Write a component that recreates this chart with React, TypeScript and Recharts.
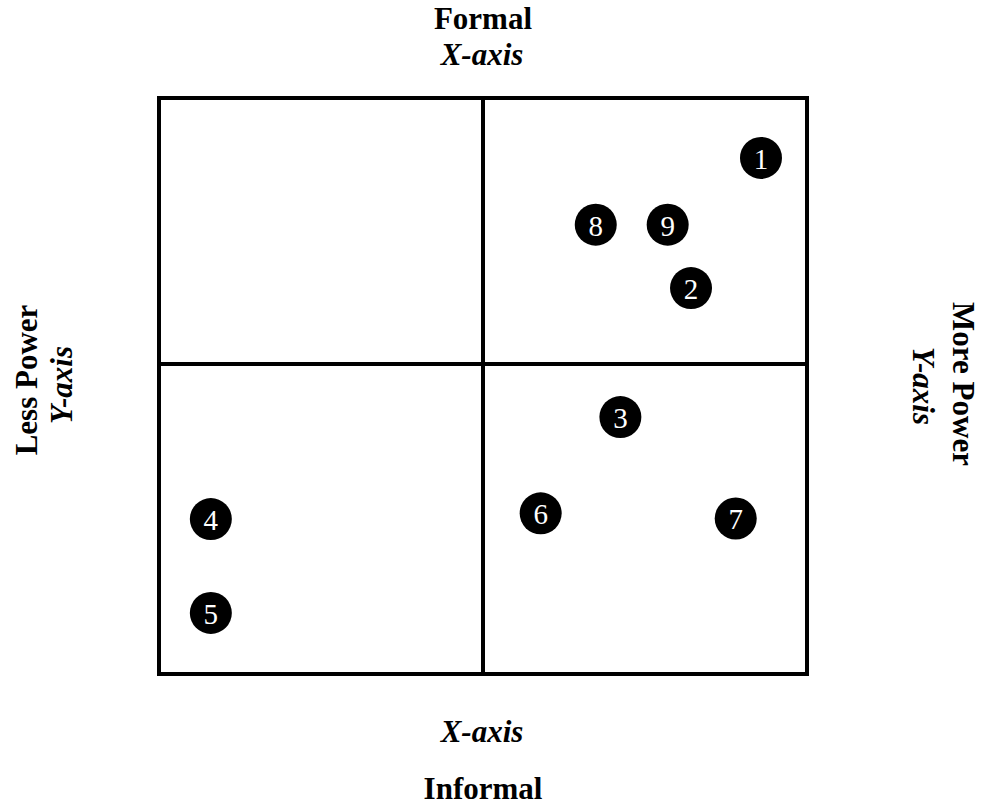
import { ScatterChart, Scatter, XAxis, YAxis, ReferenceArea, ReferenceLine } from 'recharts'

// point ids
const POINT_LABELS = ['1', '2', '3', '4', '5', '6', '7', '8', '9']
const X_VALUES = [9.29, 8.21, 7.12, 0.8, 0.8, 5.89, 8.9, 6.74, 7.85]
const Y_VALUES = [8.96, 6.7, 4.46, 2.69, 1.06, 2.79, 2.7, 7.8, 7.8]

const X_DOMAIN = [0, 10]
const Y_DOMAIN = [0, 10]
const X_DIVIDE = 5
const Y_DIVIDE = 5.38

const TOP_TITLE = 'Formal'
const BOTTOM_TITLE = 'Informal'
const LEFT_TITLE = 'Less Power'
const RIGHT_TITLE = 'More Power'
const X_AXIS_NAME = 'X-axis'
const Y_AXIS_NAME = 'Y-axis'

const points = POINT_LABELS.map((label, i) => ({ label, x: X_VALUES[i], y: Y_VALUES[i] }))

const SERIF = '"Liberation Serif", "Times New Roman", serif'

function Bubble(props: any) {
  const { cx, cy, payload } = props
  if (cx == null || cy == null) return null
  return (
    <g>
      <circle cx={cx} cy={cy} r={21} fill="#000" />
      <text
        x={cx}
        y={cy + 1}
        textAnchor="middle"
        dominantBaseline="central"
        fill="#fff"
        fontFamily={SERIF}
        fontSize={29}
      >
        {payload.label}
      </text>
    </g>
  )
}

export default function App() {
  const titleStyle = { fontFamily: SERIF, fontSize: 31, fontWeight: 700, fill: '#000' }
  const axisStyle = { ...titleStyle, fontStyle: 'italic' as const }
  return (
    <div style={{ position: 'absolute', left: 0, top: 0, width: 985, height: 807, background: '#fff' }}>
      <ScatterChart width={985} height={807} margin={{ top: 98, right: 178, bottom: 133, left: 159 }}>
        <XAxis type="number" dataKey="x" domain={X_DOMAIN} hide />
        <YAxis type="number" dataKey="y" domain={Y_DOMAIN} hide />
        <ReferenceArea x1={X_DOMAIN[0]} x2={X_DOMAIN[1]} y1={Y_DOMAIN[0]} y2={Y_DOMAIN[1]}
          fill="none" fillOpacity={0} stroke="#000" strokeWidth={4} strokeOpacity={1} />
        <ReferenceLine x={X_DIVIDE} stroke="#000" strokeWidth={4} />
        <ReferenceLine y={Y_DIVIDE} stroke="#000" strokeWidth={4} />
        <Scatter data={points} shape={<Bubble />} isAnimationActive={false} />
      </ScatterChart>
      <svg width={985} height={807} style={{ position: 'absolute', left: 0, top: 0, pointerEvents: 'none' }}>
        <text x={483} y={29} textAnchor="middle" style={titleStyle}>{TOP_TITLE}</text>
        <text x={482} y={65} textAnchor="middle" style={axisStyle}>{X_AXIS_NAME}</text>
        <text x={482} y={742} textAnchor="middle" style={axisStyle}>{X_AXIS_NAME}</text>
        <text x={483} y={799} textAnchor="middle" style={titleStyle}>{BOTTOM_TITLE}</text>
        <text transform="translate(37 380) rotate(-90)" textAnchor="middle" style={titleStyle}>{LEFT_TITLE}</text>
        <text transform="translate(72 385) rotate(-90)" textAnchor="middle" style={axisStyle}>{Y_AXIS_NAME}</text>
        <text transform="translate(953 384) rotate(90)" textAnchor="middle" style={titleStyle}>{RIGHT_TITLE}</text>
        <text transform="translate(913 386) rotate(90)" textAnchor="middle" style={axisStyle}>{Y_AXIS_NAME}</text>
      </svg>
    </div>
  )
}
